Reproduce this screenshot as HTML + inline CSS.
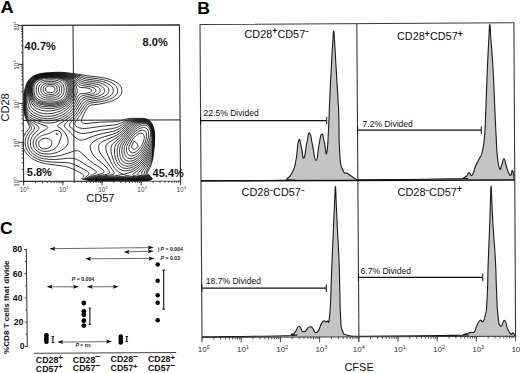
<!DOCTYPE html>
<html><head><meta charset="utf-8"><title>Figure</title>
<style>
html,body{margin:0;padding:0;background:#fff;width:520px;height:373px;overflow:hidden}
svg{display:block}
text{font-family:"Liberation Sans",sans-serif}
</style></head><body>
<svg width="520" height="373" viewBox="0 0 520 373">
<rect width="520" height="373" fill="#fff"/>
<text transform="translate(0.4,12.9) scale(1.12,1)" font-size="16.3" font-weight="bold" fill="#000" font-family="Liberation Sans">A</text>
<line x1="21.85" y1="181.4" x2="23.65" y2="181.4" stroke="#2a2a2a" stroke-width="0.9" />
<line x1="21.77" y1="169.66" x2="23.57" y2="169.66" stroke="#2a2a2a" stroke-width="0.9" />
<line x1="21.72" y1="162.79" x2="23.52" y2="162.79" stroke="#2a2a2a" stroke-width="0.9" />
<line x1="21.69" y1="157.92" x2="23.49" y2="157.92" stroke="#2a2a2a" stroke-width="0.9" />
<line x1="21.67" y1="154.14" x2="23.47" y2="154.14" stroke="#2a2a2a" stroke-width="0.9" />
<line x1="21.65" y1="151.05" x2="23.45" y2="151.05" stroke="#2a2a2a" stroke-width="0.9" />
<line x1="21.63" y1="148.44" x2="23.43" y2="148.44" stroke="#2a2a2a" stroke-width="0.9" />
<line x1="21.61" y1="146.18" x2="23.41" y2="146.18" stroke="#2a2a2a" stroke-width="0.9" />
<line x1="21.6" y1="144.18" x2="23.4" y2="144.18" stroke="#2a2a2a" stroke-width="0.9" />
<line x1="21.59" y1="142.4" x2="23.39" y2="142.4" stroke="#2a2a2a" stroke-width="0.9" />
<line x1="21.51" y1="130.66" x2="23.31" y2="130.66" stroke="#2a2a2a" stroke-width="0.9" />
<line x1="21.46" y1="123.79" x2="23.26" y2="123.79" stroke="#2a2a2a" stroke-width="0.9" />
<line x1="21.43" y1="118.92" x2="23.23" y2="118.92" stroke="#2a2a2a" stroke-width="0.9" />
<line x1="21.4" y1="115.14" x2="23.2" y2="115.14" stroke="#2a2a2a" stroke-width="0.9" />
<line x1="21.38" y1="112.05" x2="23.18" y2="112.05" stroke="#2a2a2a" stroke-width="0.9" />
<line x1="21.37" y1="109.44" x2="23.17" y2="109.44" stroke="#2a2a2a" stroke-width="0.9" />
<line x1="21.35" y1="107.18" x2="23.15" y2="107.18" stroke="#2a2a2a" stroke-width="0.9" />
<line x1="21.34" y1="105.18" x2="23.14" y2="105.18" stroke="#2a2a2a" stroke-width="0.9" />
<line x1="21.32" y1="103.4" x2="23.12" y2="103.4" stroke="#2a2a2a" stroke-width="0.9" />
<line x1="21.25" y1="91.66" x2="23.05" y2="91.66" stroke="#2a2a2a" stroke-width="0.9" />
<line x1="21.2" y1="84.79" x2="23" y2="84.79" stroke="#2a2a2a" stroke-width="0.9" />
<line x1="21.17" y1="79.92" x2="22.97" y2="79.92" stroke="#2a2a2a" stroke-width="0.9" />
<line x1="21.14" y1="76.14" x2="22.94" y2="76.14" stroke="#2a2a2a" stroke-width="0.9" />
<line x1="21.12" y1="73.05" x2="22.92" y2="73.05" stroke="#2a2a2a" stroke-width="0.9" />
<line x1="21.1" y1="70.44" x2="22.9" y2="70.44" stroke="#2a2a2a" stroke-width="0.9" />
<line x1="21.09" y1="68.18" x2="22.89" y2="68.18" stroke="#2a2a2a" stroke-width="0.9" />
<line x1="21.07" y1="66.18" x2="22.87" y2="66.18" stroke="#2a2a2a" stroke-width="0.9" />
<line x1="21.06" y1="64.4" x2="22.86" y2="64.4" stroke="#2a2a2a" stroke-width="0.9" />
<line x1="20.98" y1="52.66" x2="22.78" y2="52.66" stroke="#2a2a2a" stroke-width="0.9" />
<line x1="20.94" y1="45.79" x2="22.74" y2="45.79" stroke="#2a2a2a" stroke-width="0.9" />
<line x1="20.9" y1="40.92" x2="22.7" y2="40.92" stroke="#2a2a2a" stroke-width="0.9" />
<line x1="20.88" y1="37.14" x2="22.68" y2="37.14" stroke="#2a2a2a" stroke-width="0.9" />
<line x1="20.86" y1="34.05" x2="22.66" y2="34.05" stroke="#2a2a2a" stroke-width="0.9" />
<line x1="20.84" y1="31.44" x2="22.64" y2="31.44" stroke="#2a2a2a" stroke-width="0.9" />
<line x1="20.83" y1="29.18" x2="22.63" y2="29.18" stroke="#2a2a2a" stroke-width="0.9" />
<line x1="20.81" y1="27.18" x2="22.61" y2="27.18" stroke="#2a2a2a" stroke-width="0.9" />
<line x1="19.15" y1="181.4" x2="23.65" y2="181.4" stroke="#2a2a2a" stroke-width="0.9" />
<line x1="18.89" y1="142.4" x2="23.39" y2="142.4" stroke="#2a2a2a" stroke-width="0.9" />
<line x1="18.62" y1="103.4" x2="23.12" y2="103.4" stroke="#2a2a2a" stroke-width="0.9" />
<line x1="18.36" y1="64.4" x2="22.86" y2="64.4" stroke="#2a2a2a" stroke-width="0.9" />
<line x1="18.1" y1="25.4" x2="22.6" y2="25.4" stroke="#2a2a2a" stroke-width="0.9" />
<line x1="23.65" y1="181.4" x2="23.65" y2="183.2" stroke="#2a2a2a" stroke-width="0.9" />
<line x1="35.45" y1="181.37" x2="35.45" y2="183.17" stroke="#2a2a2a" stroke-width="0.9" />
<line x1="42.36" y1="181.35" x2="42.36" y2="183.15" stroke="#2a2a2a" stroke-width="0.9" />
<line x1="47.26" y1="181.34" x2="47.26" y2="183.14" stroke="#2a2a2a" stroke-width="0.9" />
<line x1="51.06" y1="181.33" x2="51.06" y2="183.13" stroke="#2a2a2a" stroke-width="0.9" />
<line x1="54.16" y1="181.32" x2="54.16" y2="183.12" stroke="#2a2a2a" stroke-width="0.9" />
<line x1="56.79" y1="181.32" x2="56.79" y2="183.12" stroke="#2a2a2a" stroke-width="0.9" />
<line x1="59.06" y1="181.31" x2="59.06" y2="183.11" stroke="#2a2a2a" stroke-width="0.9" />
<line x1="61.07" y1="181.3" x2="61.07" y2="183.1" stroke="#2a2a2a" stroke-width="0.9" />
<line x1="62.86" y1="181.3" x2="62.86" y2="183.1" stroke="#2a2a2a" stroke-width="0.9" />
<line x1="74.67" y1="181.27" x2="74.67" y2="183.07" stroke="#2a2a2a" stroke-width="0.9" />
<line x1="81.57" y1="181.25" x2="81.57" y2="183.05" stroke="#2a2a2a" stroke-width="0.9" />
<line x1="86.47" y1="181.24" x2="86.47" y2="183.04" stroke="#2a2a2a" stroke-width="0.9" />
<line x1="90.27" y1="181.23" x2="90.27" y2="183.03" stroke="#2a2a2a" stroke-width="0.9" />
<line x1="93.38" y1="181.22" x2="93.38" y2="183.02" stroke="#2a2a2a" stroke-width="0.9" />
<line x1="96" y1="181.22" x2="96" y2="183.02" stroke="#2a2a2a" stroke-width="0.9" />
<line x1="98.27" y1="181.21" x2="98.27" y2="183.01" stroke="#2a2a2a" stroke-width="0.9" />
<line x1="100.28" y1="181.2" x2="100.28" y2="183" stroke="#2a2a2a" stroke-width="0.9" />
<line x1="102.07" y1="181.2" x2="102.07" y2="183" stroke="#2a2a2a" stroke-width="0.9" />
<line x1="113.88" y1="181.17" x2="113.88" y2="182.97" stroke="#2a2a2a" stroke-width="0.9" />
<line x1="120.78" y1="181.15" x2="120.78" y2="182.95" stroke="#2a2a2a" stroke-width="0.9" />
<line x1="125.68" y1="181.14" x2="125.68" y2="182.94" stroke="#2a2a2a" stroke-width="0.9" />
<line x1="129.48" y1="181.13" x2="129.48" y2="182.93" stroke="#2a2a2a" stroke-width="0.9" />
<line x1="132.59" y1="181.12" x2="132.59" y2="182.92" stroke="#2a2a2a" stroke-width="0.9" />
<line x1="135.21" y1="181.12" x2="135.21" y2="182.92" stroke="#2a2a2a" stroke-width="0.9" />
<line x1="137.49" y1="181.11" x2="137.49" y2="182.91" stroke="#2a2a2a" stroke-width="0.9" />
<line x1="139.49" y1="181.1" x2="139.49" y2="182.9" stroke="#2a2a2a" stroke-width="0.9" />
<line x1="141.29" y1="181.1" x2="141.29" y2="182.9" stroke="#2a2a2a" stroke-width="0.9" />
<line x1="153.09" y1="181.07" x2="153.09" y2="182.87" stroke="#2a2a2a" stroke-width="0.9" />
<line x1="160" y1="181.05" x2="160" y2="182.85" stroke="#2a2a2a" stroke-width="0.9" />
<line x1="164.9" y1="181.04" x2="164.9" y2="182.84" stroke="#2a2a2a" stroke-width="0.9" />
<line x1="168.7" y1="181.03" x2="168.7" y2="182.83" stroke="#2a2a2a" stroke-width="0.9" />
<line x1="171.8" y1="181.02" x2="171.8" y2="182.82" stroke="#2a2a2a" stroke-width="0.9" />
<line x1="174.43" y1="181.02" x2="174.43" y2="182.82" stroke="#2a2a2a" stroke-width="0.9" />
<line x1="176.7" y1="181.01" x2="176.7" y2="182.81" stroke="#2a2a2a" stroke-width="0.9" />
<line x1="178.71" y1="181" x2="178.71" y2="182.8" stroke="#2a2a2a" stroke-width="0.9" />
<line x1="23.65" y1="181.4" x2="23.65" y2="185.6" stroke="#2a2a2a" stroke-width="0.9" />
<line x1="62.86" y1="181.3" x2="62.86" y2="185.5" stroke="#2a2a2a" stroke-width="0.9" />
<line x1="102.07" y1="181.2" x2="102.07" y2="185.4" stroke="#2a2a2a" stroke-width="0.9" />
<line x1="141.29" y1="181.1" x2="141.29" y2="185.3" stroke="#2a2a2a" stroke-width="0.9" />
<line x1="180.5" y1="181" x2="180.5" y2="185.2" stroke="#2a2a2a" stroke-width="0.9" />
<path d="M23.6,95.4L24.4,91.3L26.3,84.5L27.6,81.7L29.2,79.5L30.5,78.2L31.9,77.1L33.4,76.2L35.1,75.3L36.9,74.6L38.9,74.0L41.1,73.5L43.4,73.2L55.4,72.3L61.6,72.3L67.8,72.8L82.6,74.8L87.1,75.8L99.3,77.1L102.9,77.7L106.3,78.4L109.9,79.5L113.1,80.6L115.8,82.0L118.0,83.5L119.7,85.0L120.8,86.5L121.5,88.0L121.9,89.7L121.9,91.7L121.6,93.2L120.9,94.7L119.6,96.3L117.6,98.0L115.3,99.4L112.6,100.7L109.3,101.8L105.8,102.8L102.1,103.6L98.6,104.2L91.6,105.0L90.3,105.4L89.3,105.9L88.3,106.7L87.5,107.7L85.5,111.0L82.0,118.0L81.5,119.7L81.4,121.0L81.6,121.7L81.8,122.2L82.8,123.0L83.6,123.3L84.6,123.5L86.8,123.5L96.1,122.5L100.8,122.1L105.8,121.9L113.8,121.7L116.8,121.5L120.3,120.9L125.8,119.2L127.8,118.7L130.1,118.4L132.8,118.3L142.6,118.4L145.3,118.7L146.8,119.1L148.3,119.8L149.6,120.7L150.6,121.7L151.7,123.2L152.7,125.2L153.5,127.5L154.0,129.9L154.4,132.7L154.6,135.9L154.6,139.4L154.4,143.4L153.5,153.4L153.1,156.6L152.3,160.5L151.6,163.2L150.8,165.3L149.8,167.6L147.7,171.7L147.4,172.4L147.3,173.2L147.4,173.7L147.8,174.2L150.6,176.5L151.6,177.7L152.4,178.9L151.3,179.5L150.1,180.0L147.1,180.5L144.1,180.7L132.8,180.9M23.6,136.8L24.4,134.9L25.4,133.2L29.0,128.7L29.3,128.0L29.4,127.2L29.3,126.2L29.0,125.2L26.6,120.3L25.1,116.3L24.3,113.0L23.6,108.8M91.7,180.9L86.6,180.1L81.8,178.9L83.0,177.4L83.6,176.2L83.6,175.7L83.5,175.2L82.8,174.3L81.2,173.2L77.6,171.3L72.8,169.0L69.6,167.7L66.6,166.8L63.1,166.0L50.1,164.4L44.4,163.5L39.6,162.2L35.6,160.6L33.4,159.4L31.4,158.2L29.6,156.7L28.1,155.3L26.7,153.7L25.4,151.9L24.5,150.2L23.6,148.2M23.6,99.0L24.0,94.7L24.9,91.0L26.9,84.2L27.7,82.5L28.7,80.7L29.7,79.5L31.1,78.2L32.4,77.2L34.1,76.2L35.9,75.3L37.9,74.6L39.9,74.1L42.1,73.6L45.9,73.2L57.1,72.6L62.4,72.8L67.6,73.4L80.8,75.7L83.6,76.7L86.3,77.4L97.6,78.7L103.3,79.7L106.6,80.6L109.5,81.7L112.1,82.9L114.0,84.2L115.4,85.5L116.5,86.7L117.1,88.0L117.5,89.5L117.6,91.2L117.4,92.7L116.6,94.2L115.6,95.5L114.2,96.7L112.3,98.0L109.8,99.1L107.1,100.1L104.1,101.0L100.6,101.7L90.8,103.0L89.3,103.5L88.1,104.2L86.8,105.3L85.5,107.0L80.6,114.6L75.9,121.0L75.0,122.7L74.9,123.5L74.9,124.2L75.3,125.2L76.0,126.0L77.1,126.8L78.3,127.5L79.6,127.9L81.1,128.3L82.8,128.5L84.6,128.5L88.3,128.2L100.8,126.3L112.6,125.2L115.8,124.8L117.8,124.3L119.8,123.6L125.2,121.0L127.3,120.1L129.3,119.5L131.6,119.1L134.3,119.0L141.3,118.9L144.6,119.0L146.1,119.3L147.6,119.9L148.8,120.6L150.1,121.7L151.3,123.3L152.5,125.5L153.3,128.0L153.9,130.7L154.3,133.7L154.4,137.2L154.3,140.9L154.1,145.4L153.1,154.4L152.6,157.6L152.1,159.7L150.8,163.1L147.0,170.7L146.3,172.2L146.1,173.2L146.2,173.7L146.5,174.2L150.1,176.5L151.1,177.5L152.1,178.9L151.1,179.5L149.8,179.9L146.8,180.4L143.6,180.5L133.8,180.7L129.6,180.9M97.2,180.9L89.3,180.1L83.5,178.9L87.0,176.2L88.3,174.9L88.8,174.2L89.0,173.7L89.0,173.2L88.7,172.7L87.7,171.7L85.7,170.4L77.6,166.0L73.8,164.3L70.6,163.3L67.3,162.7L64.3,162.5L56.1,162.3L51.4,162.0L46.6,161.5L42.6,160.8L38.9,159.7L35.6,158.2L32.6,156.4L30.1,154.2L28.9,152.8L27.9,151.4L27.0,149.9L26.2,148.2L25.7,146.7L25.3,144.9L25.1,143.4L25.1,141.7L25.5,138.9L26.4,136.4L27.9,133.8L30.4,130.6L31.0,129.7L31.4,128.7L31.4,127.5L31.2,126.7L30.8,125.7L28.4,122.2L27.4,120.6L26.4,118.5L25.6,116.5L24.9,114.2L24.3,111.5L23.9,108.2L23.6,104.9M104.7,180.9L97.6,180.6L92.6,180.1L88.3,179.6L85.0,178.9L88.1,177.1L93.9,174.2L95.2,173.4L95.8,172.9L96.1,172.4L96.2,171.7L95.9,171.2L95.4,170.7L93.8,169.5L86.8,165.4L79.6,160.8L76.6,159.3L73.8,158.5L70.8,158.2L67.8,158.3L59.4,159.2L54.6,159.5L48.9,159.3L43.9,158.7L41.6,158.2L39.6,157.6L37.6,156.8L35.9,155.8L34.1,154.7L32.6,153.5L31.4,152.2L30.2,150.7L28.8,148.2L28.0,145.7L27.7,142.9L27.9,140.2L28.4,138.2L29.2,136.4L30.4,134.4L33.6,130.4L34.3,128.9L34.4,127.7L34.1,126.7L33.4,125.7L29.9,122.4L28.4,120.8L27.1,118.8L26.1,116.6L25.1,113.4L24.4,109.4L23.9,104.7L23.9,100.5L24.1,96.7L24.7,93.2L27.5,84.0L28.3,82.2L29.4,80.5L30.9,78.9L32.6,77.5L34.9,76.2L37.4,75.1L40.1,74.3L43.4,73.8L46.4,73.5L55.9,73.0L59.9,73.1L63.9,73.4L69.1,74.2L79.1,76.4L82.3,78.0L85.6,78.9L88.1,79.3L96.8,80.4L99.8,81.0L102.6,81.6L105.8,82.7L108.3,83.9L110.3,85.2L111.9,86.7L112.6,87.7L113.0,88.7L113.3,90.0L113.3,91.2L113.1,92.2L112.7,93.2L112.0,94.2L111.1,95.2L109.8,96.2L108.1,97.2L106.3,98.0L104.1,98.7L101.6,99.4L98.8,100.0L90.1,101.3L88.6,101.8L87.1,102.6L85.6,103.7L84.1,105.5L79.7,112.2L77.4,115.2L75.6,117.2L71.9,121.0L70.6,122.5L69.8,123.7L69.5,124.7L69.7,126.0L70.3,127.0L71.7,128.4L73.8,130.2L75.8,131.4L78.1,132.5L79.8,133.0L81.6,133.4L83.6,133.5L85.6,133.3L88.6,132.8L100.3,130.3L111.6,128.6L114.3,128.1L117.1,127.3L119.6,126.2L121.6,125.0L125.8,122.2L127.6,121.2L129.8,120.4L132.3,119.8L135.3,119.6L140.6,119.3L142.8,119.3L144.6,119.5L146.1,119.8L147.6,120.3L148.8,121.1L150.1,122.3L151.5,124.2L152.5,126.5L153.3,129.2L153.9,132.4L154.2,136.2L154.2,140.2L153.9,144.9L153.3,150.8L152.6,155.7L152.1,157.7L151.6,159.1L150.1,162.0L145.3,170.2L144.5,171.9L144.3,173.2L144.3,173.7L144.7,174.2L145.5,174.7L148.1,175.8L149.3,176.5L150.6,177.5L151.8,178.9L149.6,179.8L146.6,180.2L143.3,180.4L132.6,180.5L126.6,180.9M114.9,180.9L96.1,180.1L90.6,179.6L86.4,178.9L89.1,177.6L92.3,176.3L102.2,173.4L103.2,172.9L103.8,172.4L104.0,171.9L103.9,171.4L103.8,170.9L103.2,170.2L101.8,168.9L99.6,167.3L93.5,163.4L90.7,161.4L87.2,158.4L81.3,152.7L79.8,151.6L78.6,151.0L77.6,150.7L76.6,150.7L74.3,151.0L72.3,151.6L64.1,154.4L61.4,155.2L58.4,155.9L53.9,156.5L49.1,156.8L46.4,156.6L43.9,156.3L41.6,155.8L39.6,155.2L37.6,154.2L35.9,153.1L34.4,151.9L33.0,150.4L32.1,149.2L31.4,147.9L30.9,146.7L30.6,145.4L30.4,144.2L30.4,142.7L30.5,141.2L30.7,139.9L31.5,137.9L32.4,136.2L33.9,134.4L38.2,129.7L38.9,128.4L38.9,127.5L38.4,126.5L37.3,125.5L35.9,124.5L31.4,121.8L29.6,120.5L28.4,119.3L27.4,117.9L26.1,115.2L25.6,113.7L25.1,111.6L24.5,107.5L24.2,103.0L24.3,98.5L24.9,94.6L25.5,92.0L26.7,88.7L27.6,85.0L28.2,83.2L29.2,81.5L30.4,79.9L31.9,78.5L34.1,77.0L36.6,75.7L39.4,74.8L42.6,74.2L46.1,73.8L55.1,73.4L59.1,73.4L62.9,73.7L68.6,74.7L77.6,77.0L81.3,79.3L82.8,79.9L84.6,80.5L87.1,80.9L95.6,82.0L98.1,82.5L100.6,83.2L103.1,84.1L105.1,85.1L106.7,86.2L107.9,87.5L108.3,88.2L108.7,89.2L108.9,90.2L108.9,91.2L108.7,92.2L108.3,93.0L107.8,93.7L107.1,94.5L106.1,95.2L104.6,96.1L101.3,97.4L97.1,98.4L89.1,99.7L86.9,100.5L85.1,101.5L83.7,102.7L82.4,104.2L78.2,111.0L75.4,114.5L72.3,117.5L66.4,122.5L65.4,123.5L64.8,124.2L64.4,125.2L64.5,126.2L65.0,127.2L66.0,128.4L70.6,133.0L74.8,137.1L77.1,138.8L78.8,139.7L79.8,140.0L81.1,140.1L82.3,140.0L83.6,139.7L86.3,138.9L93.8,136.0L98.1,134.7L103.1,133.4L112.1,131.6L115.3,130.6L117.8,129.5L120.3,128.1L122.6,126.4L126.6,123.2L128.0,122.2L129.8,121.3L131.8,120.7L134.1,120.3L137.3,120.0L141.8,119.8L144.3,119.9L146.1,120.2L147.6,120.8L148.8,121.6L150.1,122.8L151.4,124.7L152.5,127.2L153.3,130.2L153.8,133.4L154.0,137.2L153.9,141.7L153.4,147.7L152.8,152.3L152.1,155.5L151.1,157.8L147.6,163.6L142.7,170.9L141.7,172.7L141.4,173.7L141.5,174.2L142.4,174.7L146.6,175.8L148.6,176.6L150.1,177.6L151.4,178.9L149.1,179.7L146.1,180.1L131.3,180.4L121.1,180.9M49.9,154.0L46.9,154.1L43.9,153.8L41.4,153.3L39.1,152.4L37.1,151.1L35.4,149.4L34.2,147.7L33.4,145.7L33.1,143.4L33.3,141.2L34.1,138.9L35.4,136.9L37.0,135.2L39.1,133.5L41.1,132.2L45.2,129.9L46.7,128.9L47.5,128.2L47.8,127.5L47.5,127.0L47.3,126.7L46.4,126.2L36.6,122.5L33.4,121.0L30.9,119.7L29.4,118.6L28.1,117.4L27.1,115.9L26.4,114.3L25.9,112.8L25.4,110.6L24.8,106.7L24.6,102.0L24.9,97.5L25.5,94.0L27.2,88.7L28.1,84.7L29.0,82.7L30.2,80.7L32.2,78.7L34.6,77.1L37.4,75.8L40.6,74.8L43.6,74.3L46.9,74.0L55.1,73.7L60.4,73.9L63.9,74.3L67.2,75.0L70.6,75.8L76.1,77.5L76.6,77.7L80.1,80.5L81.3,81.2L82.6,81.7L85.6,82.5L92.8,83.4L96.6,84.2L98.3,84.7L100.1,85.4L101.6,86.2L102.6,86.9L103.4,87.7L104.0,88.5L104.3,89.2L104.5,90.2L104.5,91.2L104.3,92.0L103.8,93.0L103.1,93.7L101.2,95.0L98.6,96.0L95.1,96.9L89.6,97.8L87.6,98.2L85.3,99.0L83.6,99.9L82.4,101.0L81.3,102.2L76.3,110.2L74.6,112.5L72.6,114.7L70.6,116.5L68.3,118.2L65.6,120.1L59.7,123.7L58.6,124.5L57.9,125.2L57.5,126.0L57.9,126.7L61.4,129.1L63.1,130.6L64.7,132.4L66.1,134.7L67.3,137.2L67.9,139.4L68.1,141.4L67.9,143.4L67.1,145.2L65.8,146.9L63.8,148.7L61.6,150.2L58.9,151.6L56.0,152.7L53.1,153.4L49.9,154.0M123.3,180.5L116.1,180.5L100.3,180.1L93.3,179.6L87.8,178.9L91.1,177.6L94.6,176.5L97.8,175.8L104.8,174.7L107.1,174.2L108.8,173.4L109.3,172.9L109.5,172.4L109.4,171.7L108.8,170.4L107.6,168.8L106.1,167.0L103.3,164.3L96.3,158.4L94.7,156.7L93.1,154.7L91.6,152.2L90.6,149.7L90.3,148.2L90.2,146.9L90.2,145.9L90.5,145.2L91.3,143.7L92.8,142.2L94.9,140.7L97.6,139.2L99.9,138.2L102.8,137.2L113.3,134.1L115.6,133.2L117.6,132.2L119.6,130.9L121.6,129.3L128.2,123.5L129.6,122.5L130.8,121.9L132.3,121.3L134.3,120.9L136.8,120.5L140.1,120.3L142.3,120.2L144.1,120.3L145.6,120.5L146.8,120.9L148.1,121.5L149.1,122.3L150.1,123.3L150.8,124.4L152.1,127.0L152.7,128.7L153.1,130.4L153.6,134.4L153.7,139.2L153.4,145.2L152.8,150.4L152.3,152.6L151.6,154.6L150.3,156.8L148.1,160.4L145.8,163.8L143.6,166.8L140.1,171.0L137.6,173.7L137.3,174.2L137.3,174.4L137.4,174.7L137.8,174.9L138.6,175.2L144.8,176.0L147.3,176.6L149.3,177.5L150.1,178.1L151.0,178.9L148.6,179.6L145.6,179.9L131.8,180.1L123.3,180.5M49.9,123.0L46.4,122.9L42.6,122.3L38.9,121.3L35.1,120.0L31.9,118.4L29.3,116.7L27.9,115.2L27.1,114.1L26.6,113.0L26.1,111.5L25.6,109.2L25.1,104.9L25.1,100.2L25.6,96.1L26.1,94.1L27.6,89.2L28.3,85.7L29.1,83.5L29.8,82.0L30.9,80.5L32.2,79.2L33.6,78.1L35.9,76.8L38.4,75.8L41.1,75.0L44.1,74.6L47.1,74.3L55.4,74.0L59.1,74.1L62.9,74.6L65.6,75.1L68.3,75.8L75.3,78.1L79.1,81.8L80.3,82.7L81.6,83.3L84.3,84.0L91.3,85.0L94.6,85.8L96.3,86.4L97.6,87.0L98.7,87.7L99.6,88.7L100.2,90.0L100.2,90.7L100.1,91.5L99.7,92.2L99.4,92.7L97.8,93.8L96.1,94.6L94.1,95.2L87.3,96.5L85.1,97.0L83.1,97.8L81.6,98.7L80.6,99.7L79.8,100.7L76.1,107.2L73.6,110.8L72.1,112.5L70.6,114.0L68.8,115.4L67.1,116.7L65.1,118.0L62.9,119.3L60.6,120.3L58.1,121.3L55.9,122.1L53.9,122.5L51.9,122.8L49.9,123.0M120.3,180.2L111.1,180.1L100.3,179.9L94.6,179.5L89.3,178.9L92.8,177.7L96.8,176.8L100.1,176.3L107.9,175.4L111.1,174.9L112.3,174.6L113.5,174.2L113.8,173.9L114.2,173.4L114.3,172.9L114.1,172.4L113.4,171.2L106.6,161.5L101.6,155.2L100.2,152.9L99.2,150.7L98.7,148.7L98.5,146.7L98.6,145.9L98.9,145.2L99.5,144.2L100.4,143.2L101.7,142.2L103.3,141.2L106.3,139.7L114.1,136.5L116.1,135.5L118.1,134.3L119.8,133.0L121.8,131.3L129.2,124.2L130.4,123.2L131.7,122.5L133.3,121.8L135.3,121.3L137.8,121.0L140.8,120.7L142.8,120.6L144.3,120.7L145.8,121.0L147.1,121.5L148.1,122.0L149.1,122.8L150.1,123.9L150.8,125.0L151.5,126.2L152.1,127.7L152.9,130.9L153.4,135.2L153.5,139.9L153.1,145.7L152.8,147.7L152.3,150.3L151.8,151.8L151.3,152.8L149.3,156.2L146.1,161.1L143.1,165.1L140.8,167.7L138.6,169.9L136.1,171.9L132.9,173.9L132.4,174.4L132.4,174.7L132.5,174.9L133.1,175.3L135.1,175.8L137.6,176.1L143.8,176.5L146.6,176.9L147.8,177.3L148.8,177.7L150.5,178.9L148.3,179.5L145.1,179.8L120.3,180.2M48.1,151.2L45.1,151.4L43.6,151.3L42.4,151.0L40.1,150.2L39.0,149.4L38.1,148.7L37.4,147.9L36.7,146.9L36.3,145.9L36.0,144.7L35.9,143.4L36.0,142.2L36.4,141.0L36.8,139.9L37.9,138.5L39.1,137.3L40.6,136.2L42.4,135.4L48.9,133.4L50.4,132.8L53.1,131.3L54.6,130.7L55.9,130.5L56.9,130.5L57.9,130.7L58.9,131.1L60.1,131.9L60.8,132.9L61.3,134.2L61.4,135.4L61.2,136.7L60.9,137.9L59.0,142.9L58.3,144.7L57.5,145.9L56.6,146.9L55.6,147.9L54.2,148.9L52.9,149.7L51.4,150.4L49.9,150.9L48.1,151.2M49.6,120.7L46.1,120.7L42.6,120.3L39.0,119.5L35.5,118.2L32.4,116.6L29.6,114.8L28.6,113.9L27.9,113.0L27.4,112.2L26.9,111.1L26.1,108.2L25.6,104.0L25.6,100.5L26.1,97.0L28.2,89.2L28.8,85.7L29.4,83.7L30.2,82.2L31.2,80.7L32.4,79.5L33.9,78.3L35.9,77.2L38.4,76.1L41.1,75.3L44.1,74.8L47.1,74.6L55.4,74.3L59.1,74.5L62.6,75.0L65.1,75.5L67.7,76.2L74.1,78.5L75.1,79.5L78.6,83.6L79.6,84.4L80.6,85.0L82.6,85.6L88.9,86.5L91.6,87.0L93.9,88.0L94.7,88.5L95.4,89.2L95.9,90.2L95.9,91.0L95.7,91.5L95.1,92.3L93.8,93.1L92.3,93.7L90.8,94.1L85.1,95.1L82.8,95.6L81.3,96.2L80.1,97.1L79.3,97.9L78.6,99.0L75.5,104.7L72.8,108.7L71.3,110.5L69.6,112.2L67.9,113.7L66.1,115.0L62.4,117.3L60.3,118.2L58.1,119.1L55.9,119.7L53.9,120.2L49.6,120.7M124.6,174.0L123.6,174.1L122.8,174.1L121.1,173.3L118.8,172.0L117.3,170.9L115.8,169.5L114.6,168.1L113.4,166.4L112.1,164.2L110.7,161.4L107.9,155.4L106.7,152.4L106.1,150.4L105.8,148.7L105.7,146.9L106.0,145.7L107.0,144.2L108.7,142.7L110.6,141.4L116.1,138.1L119.6,135.5L122.6,132.7L129.6,125.5L131.1,124.1L132.4,123.2L133.9,122.5L135.5,122.0L137.6,121.5L140.1,121.2L142.3,121.1L144.1,121.1L145.6,121.4L146.8,121.8L147.8,122.3L148.8,123.1L149.8,124.1L150.6,125.2L151.3,126.5L151.8,127.9L152.7,131.2L153.2,135.7L153.2,140.7L153.0,143.7L152.6,146.4L152.3,147.9L151.8,149.5L151.0,151.2L149.3,154.0L145.6,159.7L142.1,164.1L138.8,167.4L136.1,169.5L133.3,171.1L129.3,172.6L124.6,174.0M57.4,134.3L56.9,134.4L56.4,134.3L55.9,133.9L55.9,133.7L56.1,133.5L57.4,134.0L57.4,134.2L57.4,134.3M46.1,148.7L44.9,148.8L43.6,148.8L42.6,148.6L41.6,148.2L40.8,147.7L39.9,146.9L39.3,146.2L39.0,145.4L38.7,144.4L38.7,143.4L38.9,142.4L39.3,141.4L39.9,140.7L40.6,139.9L41.6,139.2L42.6,138.8L43.9,138.4L45.4,138.3L46.9,138.4L48.4,138.7L49.4,139.2L50.4,139.9L51.1,140.7L51.5,141.7L51.8,142.9L51.7,144.2L51.4,145.2L50.7,146.2L49.9,147.1L48.9,147.8L47.6,148.3L46.1,148.7M134.6,179.7L120.1,179.9L107.1,179.8L97.8,179.5L91.0,178.9L94.8,177.9L99.1,177.1L102.8,176.7L114.8,175.8L123.1,174.5L123.6,174.6L127.8,175.7L131.6,176.3L135.6,176.7L143.1,177.0L145.6,177.2L148.1,177.9L149.1,178.4L149.9,178.9L147.8,179.4L145.3,179.6L134.6,179.7M51.1,118.5L47.4,118.7L43.9,118.4L40.4,117.8L37.0,116.7L33.8,115.2L30.9,113.2L28.7,111.2L27.6,109.3L27.1,107.7L26.6,105.5L26.4,103.2L26.4,101.2L26.8,98.2L28.8,88.7L29.1,86.2L29.8,84.0L30.8,82.0L32.2,80.2L33.9,78.7L36.1,77.4L38.6,76.4L41.4,75.6L44.4,75.1L47.4,74.9L55.1,74.7L58.9,74.9L62.4,75.4L65.0,76.0L67.6,76.7L70.8,78.0L73.3,79.1L75.0,81.2L77.8,85.6L78.6,86.5L79.6,87.2L80.8,87.5L84.3,87.6L88.1,88.2L90.1,88.8L90.8,89.2L91.3,89.7L91.6,90.5L91.4,91.2L90.8,91.8L89.8,92.4L88.6,92.8L86.8,93.1L80.8,93.8L79.8,94.2L79.1,94.7L77.8,96.3L74.8,102.5L73.7,104.2L72.3,106.2L70.8,108.0L69.1,109.9L67.3,111.5L65.5,113.0L62.1,115.1L58.6,116.6L54.9,117.8L51.1,118.5M126.8,170.7L125.1,170.8L123.3,170.6L121.8,170.2L120.3,169.5L119.1,168.8L117.8,167.7L116.7,166.4L115.6,164.9L114.5,162.9L113.5,160.4L112.5,157.4L111.6,154.2L111.2,151.7L111.0,149.4L111.1,147.2L111.4,145.9L112.1,144.7L113.2,143.4L120.3,137.1L129.6,127.2L132.0,125.0L133.6,123.7L134.9,123.0L136.3,122.5L138.3,122.0L140.3,121.7L142.3,121.5L143.8,121.6L145.3,121.8L146.6,122.2L147.6,122.7L148.6,123.4L150.1,125.1L151.4,127.5L152.3,130.7L152.9,134.7L153.0,139.4L152.6,144.0L152.3,145.4L151.8,147.2L151.0,148.9L149.6,151.4L146.1,156.8L142.6,161.4L139.3,164.8L136.6,167.1L133.8,168.7L130.3,170.0L128.6,170.4L126.8,170.7M143.3,179.5L121.3,179.7L110.8,179.6L100.1,179.4L92.9,178.9L97.3,178.0L102.3,177.4L108.8,177.0L121.1,176.6L124.6,176.6L133.1,177.2L144.1,177.6L147.1,178.1L148.3,178.5L149.2,178.9L146.8,179.3L143.3,179.5M50.9,116.2L47.6,116.4L44.6,116.3L41.6,115.8L38.9,115.0L36.1,113.9L33.6,112.4L31.1,110.5L30.1,109.5L29.8,109.0L28.9,107.1L28.2,105.0L27.9,103.0L27.8,100.5L28.4,94.5L29.5,86.5L30.0,84.5L31.0,82.5L32.0,81.0L33.4,79.6L34.9,78.5L36.8,77.5L38.9,76.6L41.1,76.0L43.6,75.5L46.1,75.2L54.9,75.0L57.9,75.1L60.6,75.5L63.6,76.1L66.3,76.9L69.0,78.0L72.3,79.5L74.0,81.7L75.3,84.2L76.8,88.2L77.2,89.7L77.3,90.7L77.1,92.5L76.2,95.2L74.8,99.0L73.3,101.7L71.5,104.5L69.1,107.2L66.3,109.6L63.6,111.6L60.6,113.3L57.4,114.7L54.1,115.7L50.9,116.2M128.8,168.2L127.1,168.4L125.3,168.4L123.8,168.1L122.3,167.6L121.1,166.9L119.7,165.9L118.6,164.7L117.7,163.4L116.8,161.7L116.0,159.7L115.3,157.2L114.8,154.7L114.5,152.2L114.5,149.9L114.7,147.9L115.1,146.2L116.0,144.4L117.4,142.7L121.8,137.9L129.5,129.2L132.2,126.5L134.3,124.6L135.6,123.8L136.7,123.2L138.3,122.7L139.8,122.4L141.8,122.1L143.6,122.1L145.1,122.2L146.3,122.6L147.3,123.1L148.3,123.7L149.1,124.4L149.8,125.4L151.1,127.7L152.0,130.4L152.3,132.3L152.6,134.4L152.7,138.4L152.3,142.2L151.6,145.0L149.6,149.0L146.6,153.9L143.5,158.2L140.3,161.8L137.6,164.3L134.8,166.1L132.1,167.4L128.8,168.2M145.3,179.2L114.3,179.4L102.8,179.3L95.3,178.9L99.3,178.3L104.3,177.9L112.1,177.6L120.6,177.4L143.1,178.0L146.1,178.3L148.2,178.9L145.3,179.2M50.1,113.7L47.4,113.9L44.9,113.7L42.4,113.3L39.9,112.7L37.4,111.7L35.1,110.4L32.9,108.8L31.9,108.0L31.6,107.5L30.5,105.2L29.7,102.7L29.3,100.0L29.1,96.5L29.2,92.5L30.0,86.5L30.5,84.5L31.4,82.5L32.6,81.0L33.8,79.7L35.4,78.6L37.1,77.7L39.1,76.9L41.4,76.2L43.9,75.8L46.6,75.5L54.9,75.3L57.9,75.5L60.6,75.9L63.4,76.5L66.1,77.4L68.6,78.5L71.3,79.9L72.2,81.0L73.0,82.2L74.1,84.7L74.9,87.7L75.2,90.7L75.0,93.2L74.3,96.0L73.3,98.7L71.9,101.2L70.3,103.5L68.1,105.7L65.6,107.7L62.9,109.5L59.9,111.1L56.6,112.3L53.4,113.2L50.1,113.7M129.3,166.0L127.8,166.1L126.3,166.1L124.8,165.8L123.6,165.4L122.4,164.7L121.3,163.9L120.3,162.8L119.4,161.4L118.6,159.7L118.0,157.9L117.5,155.9L117.3,153.9L117.2,151.7L117.2,149.7L117.6,147.4L118.0,145.9L118.8,144.4L119.8,142.9L127.9,132.9L131.6,128.9L135.1,125.7L136.4,124.7L137.7,124.0L138.9,123.5L140.6,123.0L142.3,122.7L143.8,122.7L145.1,122.8L146.4,123.2L148.1,124.2L149.6,125.8L150.8,128.0L151.6,130.4L152.2,133.7L152.3,137.4L151.9,140.4L151.1,143.2L149.1,147.4L146.4,151.9L143.3,156.2L140.3,159.7L137.6,162.2L135.1,163.9L132.3,165.2L129.3,166.0M126.3,179.2L108.8,179.2L98.7,178.9L102.3,178.6L106.6,178.4L120.1,178.1L142.1,178.5L144.6,178.6L146.6,178.9L142.3,179.1L126.3,179.2M49.6,111.0L47.1,111.0L44.6,110.8L42.4,110.5L40.1,109.8L37.9,109.0L35.6,107.8L33.4,106.2L32.9,105.4L31.6,103.0L30.7,100.5L30.1,97.5L29.8,94.5L29.9,91.5L30.4,86.5L31.0,84.2L32.1,82.2L33.1,80.9L34.4,79.7L36.1,78.6L37.9,77.7L39.9,76.9L42.1,76.4L44.6,76.0L47.1,75.7L54.6,75.6L57.4,75.8L60.1,76.2L62.9,76.8L65.4,77.7L67.6,78.7L70.3,80.2L71.0,81.0L71.8,82.2L72.9,84.7L73.5,87.2L73.7,90.5L73.5,93.2L73.0,95.7L72.1,98.2L70.6,100.7L69.1,102.7L67.1,104.5L64.8,106.2L62.1,107.7L59.1,109.0L56.1,109.9L52.9,110.6L49.6,111.0M129.3,163.7L127.8,163.7L126.6,163.6L125.3,163.2L124.3,162.7L123.3,162.1L122.5,161.2L121.7,160.2L121.1,159.2L120.5,157.7L120.0,156.2L119.7,154.4L119.5,152.4L119.5,150.4L119.7,148.7L120.1,146.9L120.5,145.7L121.3,144.2L122.4,142.4L128.5,134.4L132.0,130.4L135.3,127.3L138.3,125.2L139.8,124.5L141.2,124.0L142.6,123.6L144.1,123.6L145.3,123.7L146.6,124.1L147.6,124.7L148.3,125.2L149.1,126.1L149.8,127.1L150.8,129.4L151.5,132.2L151.7,134.9L151.5,137.4L150.8,140.1L149.6,143.4L147.6,147.4L145.1,151.4L142.3,155.2L139.6,158.3L137.1,160.5L134.6,162.1L132.1,163.2L129.3,163.7M139.1,179.0L119.3,179.0L105.6,178.9L119.6,178.7L139.3,178.9L139.1,179.0M51.6,108.5L47.9,108.6L44.4,108.3L41.4,107.8L38.4,106.8L36.1,105.7L34.6,104.7L33.2,102.7L32.1,100.7L31.5,99.2L31.0,97.5L30.4,94.2L30.4,90.7L30.7,87.5L31.0,85.7L31.4,84.5L32.0,83.2L33.4,81.2L35.4,79.5L37.9,78.0L39.6,77.3L41.6,76.8L43.9,76.4L46.1,76.1L53.6,75.9L56.4,76.1L58.9,76.4L61.1,76.8L63.4,77.5L65.6,78.4L67.6,79.5L69.6,80.7L70.5,82.0L71.3,83.5L72.0,85.5L72.3,87.5L72.5,90.5L72.3,93.0L71.9,95.0L71.3,97.0L70.3,99.0L69.1,100.6L67.7,102.2L66.1,103.6L64.1,104.9L61.9,106.0L59.6,106.9L57.1,107.6L54.4,108.2L51.6,108.5M130.6,161.2L129.3,161.3L128.1,161.2L127.1,160.9L126.1,160.5L125.2,159.9L124.3,159.2L123.6,158.2L123.0,157.2L122.5,155.9L122.1,154.4L121.8,151.4L121.8,149.7L122.0,148.2L122.3,146.7L122.8,145.4L123.6,143.9L125.0,141.7L129.1,135.9L132.3,132.2L135.5,129.2L137.1,127.9L138.6,126.9L140.1,126.1L141.6,125.5L143.1,125.2L144.3,125.1L145.6,125.2L146.6,125.5L147.3,125.9L148.1,126.5L148.8,127.4L149.3,128.2L150.1,130.0L150.6,132.4L150.5,134.7L150.1,137.5L149.2,140.4L148.0,143.7L146.3,146.9L144.2,150.4L141.8,153.5L139.3,156.3L137.1,158.3L135.1,159.7L133.1,160.6L130.6,161.2M52.4,106.7L48.4,106.8L45.1,106.6L42.1,106.2L39.4,105.4L37.4,104.6L35.9,103.7L34.4,102.0L33.0,100.0L31.8,97.2L31.1,94.2L30.9,91.0L31.3,86.5L31.9,84.2L33.1,82.2L34.7,80.5L36.9,78.9L38.4,78.2L40.4,77.4L42.4,76.9L44.6,76.6L47.4,76.3L51.6,76.2L54.4,76.3L56.7,76.5L58.9,76.8L61.1,77.3L63.1,78.0L64.8,78.7L66.7,79.7L68.5,81.0L69.1,81.6L69.8,82.7L70.6,84.5L71.1,86.5L71.3,88.7L71.3,91.7L71.0,93.7L70.5,95.7L69.6,97.7L68.6,99.3L67.3,100.8L65.8,102.2L64.1,103.4L62.1,104.5L59.9,105.3L57.6,106.0L55.1,106.4L52.4,106.7M132.3,158.5L130.1,158.7L129.1,158.5L128.1,158.2L127.3,157.8L126.5,157.2L125.3,155.7L124.8,154.7L124.4,153.4L124.0,150.7L124.1,149.2L124.2,147.7L124.5,146.4L124.9,145.4L127.0,141.7L130.1,137.2L132.8,133.9L135.6,131.2L138.3,129.2L139.8,128.4L141.1,127.9L142.3,127.6L143.6,127.4L144.6,127.5L145.6,127.8L146.8,128.6L147.7,129.7L148.4,131.2L148.7,133.2L148.7,135.4L148.3,137.8L147.6,140.4L146.6,143.1L145.2,145.9L143.6,148.6L141.8,151.1L139.8,153.5L137.8,155.4L135.9,156.9L134.1,157.9L132.3,158.5M54.6,105.2L51.4,105.4L47.4,105.4L44.4,105.1L41.6,104.6L39.1,103.8L36.9,102.8L35.6,101.6L34.4,100.2L33.5,99.0L32.7,97.5L32.2,96.2L31.8,94.7L31.4,91.7L31.6,88.0L31.9,85.7L32.7,83.7L33.9,81.9L35.6,80.2L37.1,79.2L38.6,78.5L40.7,77.7L42.7,77.2L44.9,76.8L47.1,76.6L53.9,76.6L58.1,77.0L60.0,77.5L61.9,78.0L63.6,78.7L65.4,79.7L66.9,80.7L68.0,81.7L68.9,83.2L69.7,85.0L70.1,86.7L70.2,88.7L70.2,91.2L70.0,93.5L69.4,95.5L68.5,97.5L67.5,99.0L66.1,100.5L64.6,101.7L63.1,102.6L61.1,103.6L59.1,104.3L56.9,104.9L54.6,105.2M133.1,155.7L131.3,155.9L129.8,155.6L129.1,155.2L128.4,154.7L127.4,153.4L126.7,151.7L126.4,149.7L126.5,147.4L126.7,146.4L127.0,145.4L128.8,142.2L131.1,138.6L133.3,135.8L135.6,133.5L138.1,131.7L140.3,130.6L141.3,130.3L142.3,130.2L143.3,130.3L144.1,130.5L145.1,131.1L145.8,132.1L146.4,133.4L146.6,134.9L146.6,136.7L146.3,138.7L145.7,140.9L144.8,143.1L143.8,145.2L142.5,147.4L141.1,149.4L139.3,151.5L137.6,153.2L136.1,154.3L134.6,155.2L133.1,155.7M53.4,104.2L49.6,104.3L46.4,104.2L43.6,103.9L41.1,103.3L39.1,102.6L37.6,101.8L35.9,100.4L34.4,98.6L33.1,96.4L32.3,94.0L32.0,91.2L32.1,87.5L32.6,85.2L33.4,83.5L34.7,81.7L36.4,80.2L38.0,79.2L39.7,78.5L41.2,78.0L43.4,77.4L45.4,77.1L48.0,77.0L54.4,77.0L56.5,77.2L58.6,77.6L60.4,78.1L62.1,78.7L63.7,79.5L65.2,80.5L66.7,81.7L67.3,82.5L68.3,84.2L68.8,85.9L69.1,87.7L69.2,90.2L69.1,92.2L68.7,94.2L68.0,96.0L67.2,97.5L66.1,98.9L64.8,100.1L63.4,101.2L61.9,102.1L59.9,102.9L57.9,103.5L55.6,104.0L53.4,104.2M133.8,152.7L132.6,152.8L131.3,152.5L130.3,151.9L129.6,150.9L129.0,149.4L128.9,147.9L129.0,146.4L129.6,144.9L131.0,142.2L132.5,139.7L134.1,137.7L135.8,135.9L137.6,134.5L139.3,133.6L140.3,133.3L141.1,133.2L142.4,133.4L143.1,133.9L143.7,134.7L144.1,135.7L144.3,136.9L144.3,138.2L144.0,139.7L143.6,141.2L143.0,142.9L142.1,144.7L141.2,146.2L140.1,147.7L138.8,149.2L137.6,150.4L136.3,151.5L135.1,152.2L133.8,152.7M52.9,103.2L49.4,103.3L46.4,103.2L43.6,102.8L41.3,102.2L39.1,101.4L37.6,100.5L35.9,99.0L34.6,97.5L33.6,95.5L32.9,93.0L32.7,90.5L32.9,87.2L33.4,85.1L34.1,83.5L35.4,81.9L37.0,80.5L38.2,79.7L39.8,79.0L41.3,78.5L43.6,77.9L47.9,77.4L54.1,77.5L57.9,78.0L59.6,78.5L61.6,79.2L63.1,80.0L64.5,81.0L65.6,82.0L66.3,82.9L67.1,84.2L67.7,86.0L68.0,87.7L68.1,90.2L67.9,92.2L67.6,93.8L67.0,95.5L66.2,97.0L65.2,98.2L64.0,99.5L62.6,100.5L60.9,101.4L59.1,102.1L57.1,102.6L55.1,103.0L52.9,103.2M134.3,149.2L133.3,149.2L132.6,148.8L132.0,147.9L131.7,146.9L131.9,145.9L132.6,143.9L133.6,141.9L134.1,141.3L135.6,142.1L136.8,143.3L137.3,144.1L137.7,144.9L138.0,146.7L137.4,147.4L136.3,148.3L135.3,148.9L134.3,149.2M52.1,102.0L48.9,102.0L46.4,101.8L43.9,101.5L41.9,100.9L40.0,100.2L38.3,99.2L36.8,98.0L35.6,96.5L34.6,94.5L34.1,92.5L34.0,90.2L34.1,87.2L34.6,85.4L35.5,83.7L36.7,82.2L38.2,81.0L39.5,80.2L41.3,79.5L44.6,78.6L48.9,78.3L51.9,78.3L54.4,78.4L57.9,79.0L59.4,79.5L60.9,80.1L62.2,81.0L63.2,81.7L64.1,82.5L64.8,83.5L65.6,85.0L66.1,86.5L66.4,88.0L66.4,90.2L66.3,92.0L65.9,93.7L65.3,95.2L64.6,96.5L63.6,97.7L62.5,98.7L61.1,99.6L59.6,100.4L58.1,101.0L56.2,101.5L54.4,101.8L52.1,102.0M52.9,100.0L50.1,100.1L47.6,100.0L45.6,99.8L43.6,99.3L41.9,98.7L40.4,97.9L39.0,97.0L37.9,95.7L37.0,94.2L36.4,92.5L36.2,90.5L36.3,88.0L36.6,86.5L37.2,85.0L38.1,83.6L39.3,82.5L40.5,81.7L41.9,81.0L43.4,80.5L44.9,80.2L48.4,79.8L52.9,79.8L55.9,80.2L58.6,81.0L59.9,81.6L60.9,82.3L61.9,83.1L62.6,84.0L63.2,85.0L63.7,86.2L64.0,87.5L64.1,89.0L64.1,90.7L63.9,92.2L63.5,93.7L62.9,95.0L62.1,96.0L61.2,97.0L60.1,97.8L58.9,98.5L57.6,99.0L56.1,99.5L52.9,100.0M53.4,98.0L51.4,98.1L48.9,98.1L47.1,98.0L45.4,97.7L43.7,97.2L42.4,96.6L41.4,95.9L40.3,95.0L39.4,93.7L38.9,92.4L38.5,90.7L38.5,89.0L38.7,87.5L39.1,86.2L39.8,85.0L40.7,84.0L41.6,83.2L42.6,82.7L44.9,81.9L47.6,81.4L51.4,81.3L54.1,81.6L56.6,82.2L58.6,83.1L59.4,83.7L60.2,84.5L60.8,85.2L61.3,86.2L61.6,87.2L61.8,88.2L61.8,90.0L61.7,91.2L61.4,92.5L61.0,93.5L59.9,95.1L59.1,95.8L58.1,96.5L55.9,97.4L53.4,98.0M52.1,96.2L48.6,96.2L45.9,95.8L44.6,95.3L43.6,94.8L42.8,94.2L42.1,93.5L41.4,92.5L41.0,91.2L40.9,90.0L40.9,88.5L41.1,87.5L41.4,86.5L42.1,85.5L42.9,84.8L44.4,83.9L46.4,83.2L48.6,82.9L51.6,82.9L53.9,83.2L55.6,83.6L57.2,84.5L58.4,85.5L59.2,87.0L59.5,88.7L59.4,91.0L59.1,92.0L58.8,92.7L57.9,94.0L56.4,95.1L54.4,95.8L52.1,96.2M50.9,94.5L48.4,94.4L46.5,94.0L45.0,93.2L44.4,92.6L43.9,92.0L43.5,91.2L43.3,90.5L43.2,89.5L43.3,88.2L43.5,87.5L43.9,86.7L44.4,86.2L45.1,85.6L46.4,85.0L47.9,84.6L49.9,84.4L52.1,84.5L53.6,84.8L54.9,85.3L55.9,85.9L56.6,86.7L57.1,88.0L57.2,89.7L57.0,91.0L56.4,92.2L55.6,93.1L54.4,93.8L52.9,94.3L50.9,94.5M52.4,92.5L50.9,92.7L48.9,92.6L47.6,92.3L46.6,91.7L45.9,91.0L45.6,90.0L45.6,88.5L46.0,87.5L46.6,86.9L47.4,86.5L48.4,86.2L49.4,86.0L50.9,86.0L52.1,86.1L53.1,86.5L54.0,87.0L54.6,87.7L54.9,88.5L54.9,89.5L54.8,90.5L54.4,91.2L53.9,91.7L53.1,92.2L52.4,92.5" fill="none" stroke="#111" stroke-width="0.85" stroke-linejoin="round"/>
<path d="M22.6,25.4 L179.4,24.85 L180.5,181.0 L23.65,181.4 Z" fill="none" stroke="#2a2a2a" stroke-width="1.1"/>
<line x1="73" y1="25" x2="74.2" y2="181.2" stroke="#222" stroke-width="1.0" />
<line x1="22.8" y1="120.4" x2="180.2" y2="119.9" stroke="#222" stroke-width="1.0" />
<text x="24.45" y="191.8" font-size="6.4" font-weight="normal" text-anchor="middle" fill="#444" font-family="Liberation Sans" >10<tspan font-size="4.2" dy="-2.8">0</tspan></text>
<text x="63.66" y="191.8" font-size="6.4" font-weight="normal" text-anchor="middle" fill="#444" font-family="Liberation Sans" >10<tspan font-size="4.2" dy="-2.8">1</tspan></text>
<text x="102.87" y="191.8" font-size="6.4" font-weight="normal" text-anchor="middle" fill="#444" font-family="Liberation Sans" >10<tspan font-size="4.2" dy="-2.8">2</tspan></text>
<text x="142.09" y="191.8" font-size="6.4" font-weight="normal" text-anchor="middle" fill="#444" font-family="Liberation Sans" >10<tspan font-size="4.2" dy="-2.8">3</tspan></text>
<text x="181.3" y="191.8" font-size="6.4" font-weight="normal" text-anchor="middle" fill="#444" font-family="Liberation Sans" >10<tspan font-size="4.2" dy="-2.8">4</tspan></text>
<text transform="translate(18.8,182) rotate(-90)" font-size="6.4" text-anchor="middle" fill="#444" font-family="Liberation Sans">10<tspan font-size="4.2" dy="-2.8">0</tspan></text>
<text transform="translate(18.8,143) rotate(-90)" font-size="6.4" text-anchor="middle" fill="#444" font-family="Liberation Sans">10<tspan font-size="4.2" dy="-2.8">1</tspan></text>
<text transform="translate(18.8,104) rotate(-90)" font-size="6.4" text-anchor="middle" fill="#444" font-family="Liberation Sans">10<tspan font-size="4.2" dy="-2.8">2</tspan></text>
<text transform="translate(18.8,65) rotate(-90)" font-size="6.4" text-anchor="middle" fill="#444" font-family="Liberation Sans">10<tspan font-size="4.2" dy="-2.8">3</tspan></text>
<text transform="translate(18.8,26) rotate(-90)" font-size="6.4" text-anchor="middle" fill="#444" font-family="Liberation Sans">10<tspan font-size="4.2" dy="-2.8">4</tspan></text>
<text x="24.6" y="49.8" font-size="11" font-weight="bold" text-anchor="start" fill="#111" font-family="Liberation Sans" >40.7%</text>
<text x="142.6" y="46.1" font-size="11" font-weight="bold" text-anchor="start" fill="#111" font-family="Liberation Sans" >8.0%</text>
<text x="26.8" y="175.8" font-size="11" font-weight="bold" text-anchor="start" fill="#111" font-family="Liberation Sans" >5.8%</text>
<text x="152.6" y="176.8" font-size="11" font-weight="bold" text-anchor="start" fill="#111" font-family="Liberation Sans" >45.4%</text>
<text transform="translate(9.2,107.4) rotate(-90)" font-size="11" text-anchor="middle" fill="#111" font-family="Liberation Sans">CD28</text>
<text x="100.4" y="202" font-size="11" font-weight="normal" text-anchor="middle" fill="#111" font-family="Liberation Sans" >CD57</text>
<text transform="translate(197.3,13.8) scale(1.08,1)" font-size="16.3" font-weight="bold" fill="#000" font-family="Liberation Sans">B</text>
<path d="M201,180.5 C225.6,180.44 257.2,180.87 283,180.3 C308.8,179.73 284.15,181.09 287,178.6 C289.85,176.11 289.8,177.58 292.5,172 C295.2,166.42 294.14,169.45 296,160 C297.86,150.55 297.05,144.1 298.7,140.5 C300.35,136.9 299.94,142.75 301.5,148 C303.06,153.25 302.25,159.8 303.9,158 C305.55,156.2 305.29,149.5 307,142 C308.71,134.5 307.95,132.1 309.6,133 C311.25,133.9 310.58,136.78 312.5,145 C314.42,153.22 314.05,160.4 316,160.4 C317.95,160.4 317.29,152.86 319,145 C320.71,137.14 320.05,134.8 321.7,134.2 C323.35,133.6 323,137.42 324.5,143 C326,148.58 325.5,156.7 326.7,152.8 C327.9,148.9 327.6,145.84 328.5,130 C329.4,114.16 328.86,118.6 329.7,100 C330.54,81.4 330.37,85.4 331.3,68 C332.23,50.6 332.08,53.16 332.8,42 C333.52,30.84 333.16,30.8 333.7,30.8 C334.24,30.8 333.88,30.84 334.6,42 C335.32,53.16 335.08,50.6 336.1,68 C337.12,85.4 337.19,85.6 338,100 C338.81,114.4 338.29,100.28 338.8,116 C339.31,131.72 338.56,136.35 339.7,152.4 C340.84,168.45 340.02,163.02 342.6,169.5 C345.18,175.98 344.58,171.27 348.3,174 C352.02,176.73 352.24,176.8 355,178.6 C357.76,180.4 356.75,179.58 357.5,180 L357.5,180.5 L201,181 Z" fill="#c4c4c4" stroke="none"/>
<path d="M201,180.5 C225.6,180.44 257.2,180.87 283,180.3 C308.8,179.73 284.15,181.09 287,178.6 C289.85,176.11 289.8,177.58 292.5,172 C295.2,166.42 294.14,169.45 296,160 C297.86,150.55 297.05,144.1 298.7,140.5 C300.35,136.9 299.94,142.75 301.5,148 C303.06,153.25 302.25,159.8 303.9,158 C305.55,156.2 305.29,149.5 307,142 C308.71,134.5 307.95,132.1 309.6,133 C311.25,133.9 310.58,136.78 312.5,145 C314.42,153.22 314.05,160.4 316,160.4 C317.95,160.4 317.29,152.86 319,145 C320.71,137.14 320.05,134.8 321.7,134.2 C323.35,133.6 323,137.42 324.5,143 C326,148.58 325.5,156.7 326.7,152.8 C327.9,148.9 327.6,145.84 328.5,130 C329.4,114.16 328.86,118.6 329.7,100 C330.54,81.4 330.37,85.4 331.3,68 C332.23,50.6 332.08,53.16 332.8,42 C333.52,30.84 333.16,30.8 333.7,30.8 C334.24,30.8 333.88,30.84 334.6,42 C335.32,53.16 335.08,50.6 336.1,68 C337.12,85.4 337.19,85.6 338,100 C338.81,114.4 338.29,100.28 338.8,116 C339.31,131.72 338.56,136.35 339.7,152.4 C340.84,168.45 340.02,163.02 342.6,169.5 C345.18,175.98 344.58,171.27 348.3,174 C352.02,176.73 352.24,176.8 355,178.6 C357.76,180.4 356.75,179.58 357.5,180" fill="none" stroke="#1a1a1a" stroke-width="1.1" stroke-linejoin="round"/>
<path d="M358,179.9 C385.75,179.57 418.64,179.55 450.5,178.8 C482.36,178.05 458.74,179.17 464.2,177.4 C469.66,175.63 466.33,173.56 468.7,172.9 C471.07,172.24 470.03,177.27 472.1,175.2 C474.17,173.13 473.53,170.8 475.6,166 C477.67,161.2 476.96,163.7 479,159.2 C481.04,154.7 480.69,158.56 482.4,151 C484.11,143.44 483.68,146.3 484.7,134 C485.72,121.7 484.99,129.71 485.8,110 C486.61,90.29 486.47,89.9 487.4,68.3 C488.33,46.7 488.18,51.23 488.9,38 C489.62,24.77 489.23,24.2 489.8,24.2 C490.37,24.2 489.84,24.77 490.8,38 C491.76,51.23 491.77,46.7 493,68.3 C494.23,89.9 493.91,88.49 494.9,110 C495.89,131.51 495.61,126.59 496.3,140 C496.99,153.41 496.24,146.21 497.2,154.7 C498.16,163.19 498.12,165.21 499.5,168.3 C500.88,171.39 500.45,167.85 501.8,165 C503.15,162.15 502.65,158.5 504,158.8 C505.35,159.1 504.92,161.77 506.3,166 C507.68,170.23 507.22,170.2 508.6,172.9 C509.98,175.6 509.73,175.69 510.9,175 C512.07,174.31 511.48,169.25 512.5,170.6 C513.52,171.95 513.76,176.83 514.3,179.5 L514.3,180 L358,180.4 Z" fill="#c4c4c4" stroke="none"/>
<path d="M358,179.9 C385.75,179.57 418.64,179.55 450.5,178.8 C482.36,178.05 458.74,179.17 464.2,177.4 C469.66,175.63 466.33,173.56 468.7,172.9 C471.07,172.24 470.03,177.27 472.1,175.2 C474.17,173.13 473.53,170.8 475.6,166 C477.67,161.2 476.96,163.7 479,159.2 C481.04,154.7 480.69,158.56 482.4,151 C484.11,143.44 483.68,146.3 484.7,134 C485.72,121.7 484.99,129.71 485.8,110 C486.61,90.29 486.47,89.9 487.4,68.3 C488.33,46.7 488.18,51.23 488.9,38 C489.62,24.77 489.23,24.2 489.8,24.2 C490.37,24.2 489.84,24.77 490.8,38 C491.76,51.23 491.77,46.7 493,68.3 C494.23,89.9 493.91,88.49 494.9,110 C495.89,131.51 495.61,126.59 496.3,140 C496.99,153.41 496.24,146.21 497.2,154.7 C498.16,163.19 498.12,165.21 499.5,168.3 C500.88,171.39 500.45,167.85 501.8,165 C503.15,162.15 502.65,158.5 504,158.8 C505.35,159.1 504.92,161.77 506.3,166 C507.68,170.23 507.22,170.2 508.6,172.9 C509.98,175.6 509.73,175.69 510.9,175 C512.07,174.31 511.48,169.25 512.5,170.6 C513.52,171.95 513.76,176.83 514.3,179.5" fill="none" stroke="#1a1a1a" stroke-width="1.1" stroke-linejoin="round"/>
<path d="M202,336.8 C226.51,336.47 256.82,336.48 283.7,335.7 C310.58,334.92 288.21,335.19 291.6,334.2 C294.99,333.21 292.72,334.71 295,332.4 C297.28,330.09 296.59,326.68 299.2,326.5 C301.81,326.32 300.31,331.74 303.7,331.8 C307.09,331.86 306.6,326.52 310.5,326.7 C314.4,326.88 313.13,333.81 316.7,332.4 C320.27,330.99 319.31,325.27 322.4,322 C325.49,318.73 324.81,323.69 327,321.5 C329.19,319.31 328.35,328.65 329.7,314.7 C331.05,300.75 330.78,291.41 331.5,275 C332.22,258.59 331.47,275 332.1,260 C332.73,245 332.82,243 333.6,225 C334.38,207 334.16,211.58 334.7,200 C335.24,188.42 334.98,186.4 335.4,186.4 C335.82,186.4 335.56,188.42 336.1,200 C336.64,211.58 336.33,207 337.2,225 C338.07,243 338.22,240.5 339,260 C339.78,279.5 339.32,272.9 339.8,290 C340.28,307.1 339.82,304.82 340.6,317 C341.38,329.18 340.36,325.14 342.4,330.6 C344.44,336.06 342.72,333.49 347.4,335.2 C352.08,336.91 354.82,335.97 358,336.3 L358,336.8 L202,337.3 Z" fill="#c4c4c4" stroke="none"/>
<path d="M202,336.8 C226.51,336.47 256.82,336.48 283.7,335.7 C310.58,334.92 288.21,335.19 291.6,334.2 C294.99,333.21 292.72,334.71 295,332.4 C297.28,330.09 296.59,326.68 299.2,326.5 C301.81,326.32 300.31,331.74 303.7,331.8 C307.09,331.86 306.6,326.52 310.5,326.7 C314.4,326.88 313.13,333.81 316.7,332.4 C320.27,330.99 319.31,325.27 322.4,322 C325.49,318.73 324.81,323.69 327,321.5 C329.19,319.31 328.35,328.65 329.7,314.7 C331.05,300.75 330.78,291.41 331.5,275 C332.22,258.59 331.47,275 332.1,260 C332.73,245 332.82,243 333.6,225 C334.38,207 334.16,211.58 334.7,200 C335.24,188.42 334.98,186.4 335.4,186.4 C335.82,186.4 335.56,188.42 336.1,200 C336.64,211.58 336.33,207 337.2,225 C338.07,243 338.22,240.5 339,260 C339.78,279.5 339.32,272.9 339.8,290 C340.28,307.1 339.82,304.82 340.6,317 C341.38,329.18 340.36,325.14 342.4,330.6 C344.44,336.06 342.72,333.49 347.4,335.2 C352.08,336.91 354.82,335.97 358,336.3" fill="none" stroke="#1a1a1a" stroke-width="1.1" stroke-linejoin="round"/>
<path d="M359,336.2 C387.14,335.96 421.24,336 452.8,335.4 C484.36,334.8 458.74,335.1 464.2,334.2 C469.66,333.3 467.94,333.12 471,332.4 C474.06,331.68 472.69,333.72 474.4,331.8 C476.11,329.88 474.99,329.42 476.7,326 C478.41,322.58 478.27,321.75 480.1,320.4 C481.93,319.05 481.3,322.88 482.8,321.5 C484.3,320.12 483.84,321.95 485.1,315.8 C486.36,309.65 486.04,317.74 487,301 C487.96,284.26 487.49,282.8 488.3,260 C489.11,237.2 489.04,243 489.7,225 C490.36,207 490.08,211.7 490.5,200 C490.92,188.3 490.71,186 491.1,186 C491.49,186 491.23,188.3 491.8,200 C492.37,211.7 491.92,207 493,225 C494.08,243 494.35,240.5 495.4,260 C496.45,279.5 495.75,273.59 496.5,290 C497.25,306.41 496.67,303.9 497.9,314.7 C499.13,325.5 498.56,324.29 500.6,326 C502.64,327.71 502.66,319.71 504.7,320.4 C506.74,321.09 505.54,324.22 507.4,328.3 C509.26,332.38 509.22,332.62 510.9,334 C512.58,335.38 511.77,332.3 513,332.9 C514.23,333.5 514.4,335.07 515,336 L515,336.5 L359,336.7 Z" fill="#c4c4c4" stroke="none"/>
<path d="M359,336.2 C387.14,335.96 421.24,336 452.8,335.4 C484.36,334.8 458.74,335.1 464.2,334.2 C469.66,333.3 467.94,333.12 471,332.4 C474.06,331.68 472.69,333.72 474.4,331.8 C476.11,329.88 474.99,329.42 476.7,326 C478.41,322.58 478.27,321.75 480.1,320.4 C481.93,319.05 481.3,322.88 482.8,321.5 C484.3,320.12 483.84,321.95 485.1,315.8 C486.36,309.65 486.04,317.74 487,301 C487.96,284.26 487.49,282.8 488.3,260 C489.11,237.2 489.04,243 489.7,225 C490.36,207 490.08,211.7 490.5,200 C490.92,188.3 490.71,186 491.1,186 C491.49,186 491.23,188.3 491.8,200 C492.37,211.7 491.92,207 493,225 C494.08,243 494.35,240.5 495.4,260 C496.45,279.5 495.75,273.59 496.5,290 C497.25,306.41 496.67,303.9 497.9,314.7 C499.13,325.5 498.56,324.29 500.6,326 C502.64,327.71 502.66,319.71 504.7,320.4 C506.74,321.09 505.54,324.22 507.4,328.3 C509.26,332.38 509.22,332.62 510.9,334 C512.58,335.38 511.77,332.3 513,332.9 C514.23,333.5 514.4,335.07 515,336" fill="none" stroke="#1a1a1a" stroke-width="1.1" stroke-linejoin="round"/>
<path d="M200.0,24.5 L513.9,22.7 L515.6,336.3 L202.0,337.5 Z" fill="none" stroke="#3a3a3a" stroke-width="1.1"/>
<line x1="356.8" y1="23.5" x2="358.9" y2="337" stroke="#3a3a3a" stroke-width="1.1" />
<line x1="200.9" y1="181" x2="514.7" y2="180.1" stroke="#111" stroke-width="1.5" />
<line x1="202" y1="337.5" x2="202" y2="339.5" stroke="#3a3a3a" stroke-width="0.9" />
<line x1="213.8" y1="337.45" x2="213.8" y2="339.45" stroke="#3a3a3a" stroke-width="0.9" />
<line x1="220.7" y1="337.43" x2="220.7" y2="339.43" stroke="#3a3a3a" stroke-width="0.9" />
<line x1="225.6" y1="337.41" x2="225.6" y2="339.41" stroke="#3a3a3a" stroke-width="0.9" />
<line x1="229.4" y1="337.4" x2="229.4" y2="339.4" stroke="#3a3a3a" stroke-width="0.9" />
<line x1="232.5" y1="337.38" x2="232.5" y2="339.38" stroke="#3a3a3a" stroke-width="0.9" />
<line x1="235.13" y1="337.37" x2="235.13" y2="339.37" stroke="#3a3a3a" stroke-width="0.9" />
<line x1="237.4" y1="337.36" x2="237.4" y2="339.36" stroke="#3a3a3a" stroke-width="0.9" />
<line x1="239.41" y1="337.36" x2="239.41" y2="339.36" stroke="#3a3a3a" stroke-width="0.9" />
<line x1="241.2" y1="337.35" x2="241.2" y2="339.35" stroke="#3a3a3a" stroke-width="0.9" />
<line x1="253" y1="337.3" x2="253" y2="339.3" stroke="#3a3a3a" stroke-width="0.9" />
<line x1="259.9" y1="337.28" x2="259.9" y2="339.28" stroke="#3a3a3a" stroke-width="0.9" />
<line x1="264.8" y1="337.26" x2="264.8" y2="339.26" stroke="#3a3a3a" stroke-width="0.9" />
<line x1="268.6" y1="337.25" x2="268.6" y2="339.25" stroke="#3a3a3a" stroke-width="0.9" />
<line x1="271.7" y1="337.23" x2="271.7" y2="339.23" stroke="#3a3a3a" stroke-width="0.9" />
<line x1="274.33" y1="337.22" x2="274.33" y2="339.22" stroke="#3a3a3a" stroke-width="0.9" />
<line x1="276.6" y1="337.21" x2="276.6" y2="339.21" stroke="#3a3a3a" stroke-width="0.9" />
<line x1="278.61" y1="337.21" x2="278.61" y2="339.21" stroke="#3a3a3a" stroke-width="0.9" />
<line x1="280.4" y1="337.2" x2="280.4" y2="339.2" stroke="#3a3a3a" stroke-width="0.9" />
<line x1="292.2" y1="337.15" x2="292.2" y2="339.15" stroke="#3a3a3a" stroke-width="0.9" />
<line x1="299.1" y1="337.13" x2="299.1" y2="339.13" stroke="#3a3a3a" stroke-width="0.9" />
<line x1="304" y1="337.11" x2="304" y2="339.11" stroke="#3a3a3a" stroke-width="0.9" />
<line x1="307.8" y1="337.1" x2="307.8" y2="339.1" stroke="#3a3a3a" stroke-width="0.9" />
<line x1="310.9" y1="337.08" x2="310.9" y2="339.08" stroke="#3a3a3a" stroke-width="0.9" />
<line x1="313.53" y1="337.07" x2="313.53" y2="339.07" stroke="#3a3a3a" stroke-width="0.9" />
<line x1="315.8" y1="337.06" x2="315.8" y2="339.06" stroke="#3a3a3a" stroke-width="0.9" />
<line x1="317.81" y1="337.06" x2="317.81" y2="339.06" stroke="#3a3a3a" stroke-width="0.9" />
<line x1="319.6" y1="337.05" x2="319.6" y2="339.05" stroke="#3a3a3a" stroke-width="0.9" />
<line x1="331.4" y1="337" x2="331.4" y2="339" stroke="#3a3a3a" stroke-width="0.9" />
<line x1="338.3" y1="336.98" x2="338.3" y2="338.98" stroke="#3a3a3a" stroke-width="0.9" />
<line x1="343.2" y1="336.96" x2="343.2" y2="338.96" stroke="#3a3a3a" stroke-width="0.9" />
<line x1="347" y1="336.95" x2="347" y2="338.95" stroke="#3a3a3a" stroke-width="0.9" />
<line x1="350.1" y1="336.93" x2="350.1" y2="338.93" stroke="#3a3a3a" stroke-width="0.9" />
<line x1="352.73" y1="336.92" x2="352.73" y2="338.92" stroke="#3a3a3a" stroke-width="0.9" />
<line x1="355" y1="336.91" x2="355" y2="338.91" stroke="#3a3a3a" stroke-width="0.9" />
<line x1="357.01" y1="336.91" x2="357.01" y2="338.91" stroke="#3a3a3a" stroke-width="0.9" />
<line x1="202" y1="337.5" x2="202" y2="342.5" stroke="#3a3a3a" stroke-width="0.9" />
<text x="203.8" y="352.2" font-size="8" font-weight="normal" text-anchor="middle" fill="#333" font-family="Liberation Serif" >10<tspan font-size="5.5" dy="-3.2">0</tspan></text>
<line x1="241.2" y1="337.35" x2="241.2" y2="342.35" stroke="#3a3a3a" stroke-width="0.9" />
<text x="243" y="352.2" font-size="8" font-weight="normal" text-anchor="middle" fill="#333" font-family="Liberation Serif" >10<tspan font-size="5.5" dy="-3.2">1</tspan></text>
<line x1="280.4" y1="337.2" x2="280.4" y2="342.2" stroke="#3a3a3a" stroke-width="0.9" />
<text x="282.2" y="352.2" font-size="8" font-weight="normal" text-anchor="middle" fill="#333" font-family="Liberation Serif" >10<tspan font-size="5.5" dy="-3.2">2</tspan></text>
<line x1="319.6" y1="337.05" x2="319.6" y2="342.05" stroke="#3a3a3a" stroke-width="0.9" />
<text x="321.4" y="352.2" font-size="8" font-weight="normal" text-anchor="middle" fill="#333" font-family="Liberation Serif" >10<tspan font-size="5.5" dy="-3.2">3</tspan></text>
<line x1="358.8" y1="336.9" x2="358.8" y2="341.9" stroke="#3a3a3a" stroke-width="0.9" />
<text x="358.8" y="352.2" font-size="8" font-weight="normal" text-anchor="middle" fill="#333" font-family="Liberation Serif" >10<tspan font-size="5.5" dy="-3.2">4</tspan></text>
<line x1="358.8" y1="336.9" x2="358.8" y2="338.9" stroke="#3a3a3a" stroke-width="0.9" />
<line x1="370.6" y1="336.85" x2="370.6" y2="338.85" stroke="#3a3a3a" stroke-width="0.9" />
<line x1="377.5" y1="336.83" x2="377.5" y2="338.83" stroke="#3a3a3a" stroke-width="0.9" />
<line x1="382.4" y1="336.81" x2="382.4" y2="338.81" stroke="#3a3a3a" stroke-width="0.9" />
<line x1="386.2" y1="336.8" x2="386.2" y2="338.8" stroke="#3a3a3a" stroke-width="0.9" />
<line x1="389.3" y1="336.78" x2="389.3" y2="338.78" stroke="#3a3a3a" stroke-width="0.9" />
<line x1="391.93" y1="336.77" x2="391.93" y2="338.77" stroke="#3a3a3a" stroke-width="0.9" />
<line x1="394.2" y1="336.76" x2="394.2" y2="338.76" stroke="#3a3a3a" stroke-width="0.9" />
<line x1="396.21" y1="336.76" x2="396.21" y2="338.76" stroke="#3a3a3a" stroke-width="0.9" />
<line x1="398" y1="336.75" x2="398" y2="338.75" stroke="#3a3a3a" stroke-width="0.9" />
<line x1="409.8" y1="336.7" x2="409.8" y2="338.7" stroke="#3a3a3a" stroke-width="0.9" />
<line x1="416.7" y1="336.68" x2="416.7" y2="338.68" stroke="#3a3a3a" stroke-width="0.9" />
<line x1="421.6" y1="336.66" x2="421.6" y2="338.66" stroke="#3a3a3a" stroke-width="0.9" />
<line x1="425.4" y1="336.65" x2="425.4" y2="338.65" stroke="#3a3a3a" stroke-width="0.9" />
<line x1="428.5" y1="336.63" x2="428.5" y2="338.63" stroke="#3a3a3a" stroke-width="0.9" />
<line x1="431.13" y1="336.62" x2="431.13" y2="338.62" stroke="#3a3a3a" stroke-width="0.9" />
<line x1="433.4" y1="336.61" x2="433.4" y2="338.61" stroke="#3a3a3a" stroke-width="0.9" />
<line x1="435.41" y1="336.61" x2="435.41" y2="338.61" stroke="#3a3a3a" stroke-width="0.9" />
<line x1="437.2" y1="336.6" x2="437.2" y2="338.6" stroke="#3a3a3a" stroke-width="0.9" />
<line x1="449" y1="336.55" x2="449" y2="338.55" stroke="#3a3a3a" stroke-width="0.9" />
<line x1="455.9" y1="336.53" x2="455.9" y2="338.53" stroke="#3a3a3a" stroke-width="0.9" />
<line x1="460.8" y1="336.51" x2="460.8" y2="338.51" stroke="#3a3a3a" stroke-width="0.9" />
<line x1="464.6" y1="336.5" x2="464.6" y2="338.5" stroke="#3a3a3a" stroke-width="0.9" />
<line x1="467.7" y1="336.48" x2="467.7" y2="338.48" stroke="#3a3a3a" stroke-width="0.9" />
<line x1="470.33" y1="336.47" x2="470.33" y2="338.47" stroke="#3a3a3a" stroke-width="0.9" />
<line x1="472.6" y1="336.46" x2="472.6" y2="338.46" stroke="#3a3a3a" stroke-width="0.9" />
<line x1="474.61" y1="336.46" x2="474.61" y2="338.46" stroke="#3a3a3a" stroke-width="0.9" />
<line x1="476.4" y1="336.45" x2="476.4" y2="338.45" stroke="#3a3a3a" stroke-width="0.9" />
<line x1="488.2" y1="336.4" x2="488.2" y2="338.4" stroke="#3a3a3a" stroke-width="0.9" />
<line x1="495.1" y1="336.38" x2="495.1" y2="338.38" stroke="#3a3a3a" stroke-width="0.9" />
<line x1="500" y1="336.36" x2="500" y2="338.36" stroke="#3a3a3a" stroke-width="0.9" />
<line x1="503.8" y1="336.35" x2="503.8" y2="338.35" stroke="#3a3a3a" stroke-width="0.9" />
<line x1="506.9" y1="336.33" x2="506.9" y2="338.33" stroke="#3a3a3a" stroke-width="0.9" />
<line x1="509.53" y1="336.32" x2="509.53" y2="338.32" stroke="#3a3a3a" stroke-width="0.9" />
<line x1="511.8" y1="336.31" x2="511.8" y2="338.31" stroke="#3a3a3a" stroke-width="0.9" />
<line x1="513.81" y1="336.31" x2="513.81" y2="338.31" stroke="#3a3a3a" stroke-width="0.9" />
<line x1="358.8" y1="336.9" x2="358.8" y2="341.9" stroke="#3a3a3a" stroke-width="0.9" />
<line x1="398" y1="336.75" x2="398" y2="341.75" stroke="#3a3a3a" stroke-width="0.9" />
<text x="399.8" y="352.2" font-size="8" font-weight="normal" text-anchor="middle" fill="#333" font-family="Liberation Serif" >10<tspan font-size="5.5" dy="-3.2">1</tspan></text>
<line x1="437.2" y1="336.6" x2="437.2" y2="341.6" stroke="#3a3a3a" stroke-width="0.9" />
<text x="439" y="352.2" font-size="8" font-weight="normal" text-anchor="middle" fill="#333" font-family="Liberation Serif" >10<tspan font-size="5.5" dy="-3.2">2</tspan></text>
<line x1="476.4" y1="336.45" x2="476.4" y2="341.45" stroke="#3a3a3a" stroke-width="0.9" />
<text x="478.2" y="352.2" font-size="8" font-weight="normal" text-anchor="middle" fill="#333" font-family="Liberation Serif" >10<tspan font-size="5.5" dy="-3.2">3</tspan></text>
<line x1="515.6" y1="336.3" x2="515.6" y2="341.3" stroke="#3a3a3a" stroke-width="0.9" />
<text x="517.4" y="352.2" font-size="8" font-weight="normal" text-anchor="middle" fill="#333" font-family="Liberation Serif" >10<tspan font-size="5.5" dy="-3.2">4</tspan></text>
<line x1="200.5" y1="120.6" x2="326.7" y2="120.6" stroke="#111" stroke-width="1.2" />
<line x1="200.5" y1="116.8" x2="200.5" y2="124.4" stroke="#111" stroke-width="1.0" />
<line x1="326.7" y1="116.8" x2="326.7" y2="124.4" stroke="#111" stroke-width="1.0" />
<line x1="357.6" y1="130.2" x2="481.3" y2="130.2" stroke="#111" stroke-width="1.2" />
<line x1="357.6" y1="126.4" x2="357.6" y2="134" stroke="#111" stroke-width="1.0" />
<line x1="481.3" y1="126.4" x2="481.3" y2="134" stroke="#111" stroke-width="1.0" />
<line x1="201.8" y1="288.2" x2="326.3" y2="288.2" stroke="#111" stroke-width="1.2" />
<line x1="201.8" y1="284.4" x2="201.8" y2="292" stroke="#111" stroke-width="1.0" />
<line x1="326.3" y1="284.4" x2="326.3" y2="292" stroke="#111" stroke-width="1.0" />
<line x1="358.4" y1="277.4" x2="482.8" y2="277.4" stroke="#111" stroke-width="1.2" />
<line x1="358.4" y1="273.6" x2="358.4" y2="281.2" stroke="#111" stroke-width="1.0" />
<line x1="482.8" y1="273.6" x2="482.8" y2="281.2" stroke="#111" stroke-width="1.0" />
<text x="203.6" y="115.9" font-size="8.55" font-weight="normal" text-anchor="start" fill="#111" font-family="Liberation Sans" >22.5% Divided</text>
<text x="362.5" y="127" font-size="8.55" font-weight="normal" text-anchor="start" fill="#111" font-family="Liberation Sans" >7.2% Divided</text>
<text x="205.8" y="283.9" font-size="8.55" font-weight="normal" text-anchor="start" fill="#111" font-family="Liberation Sans" >18.7% Divided</text>
<text x="360.6" y="273.9" font-size="8.55" font-weight="normal" text-anchor="start" fill="#111" font-family="Liberation Sans" >6.7% Divided</text>
<text x="244.5" y="37.7" font-size="10.9" fill="#111" font-family="Liberation Sans">CD28<tspan font-size="8.6" dy="-3.6" font-weight="bold">+</tspan><tspan dy="3.6">CD57</tspan><tspan font-size="6.5" dy="-4.4" font-weight="bold">&#8211;</tspan></text>
<text x="397" y="40.1" font-size="10.9" fill="#111" font-family="Liberation Sans">CD28<tspan font-size="8.6" dy="-3.6" font-weight="bold">+</tspan><tspan dy="3.6">CD57</tspan><tspan font-size="8.6" dy="-3.6" font-weight="bold">+</tspan></text>
<text x="241.6" y="195.9" font-size="10.9" fill="#111" font-family="Liberation Sans">CD28<tspan font-size="6.5" dy="-4.4" font-weight="bold">&#8211;</tspan><tspan dy="4.4">CD57</tspan><tspan font-size="6.5" dy="-4.4" font-weight="bold">&#8211;</tspan></text>
<text x="397.6" y="196" font-size="10.9" fill="#111" font-family="Liberation Sans">CD28<tspan font-size="6.5" dy="-4.4" font-weight="bold">&#8211;</tspan><tspan dy="4.4">CD57</tspan><tspan font-size="8.6" dy="-3.6" font-weight="bold">+</tspan></text>
<text x="344.4" y="371.4" font-size="11" font-weight="normal" text-anchor="start" fill="#111" font-family="Liberation Sans" >CFSE</text>
<text transform="translate(0.1,233.6) scale(1.08,1)" font-size="16.3" font-weight="bold" fill="#000" font-family="Liberation Sans">C</text>
<line x1="26.29" y1="248.8" x2="27.3" y2="347" stroke="#333" stroke-width="1.0" />
<line x1="25.1" y1="346.4" x2="27.3" y2="346.4" stroke="#333" stroke-width="0.9" />
<line x1="25.57" y1="334.27" x2="27.17" y2="334.27" stroke="#333" stroke-width="0.9" />
<line x1="24.85" y1="322.15" x2="27.05" y2="322.15" stroke="#333" stroke-width="0.9" />
<line x1="25.32" y1="310.02" x2="26.92" y2="310.02" stroke="#333" stroke-width="0.9" />
<line x1="24.6" y1="297.9" x2="26.8" y2="297.9" stroke="#333" stroke-width="0.9" />
<line x1="25.07" y1="285.77" x2="26.67" y2="285.77" stroke="#333" stroke-width="0.9" />
<line x1="24.35" y1="273.65" x2="26.55" y2="273.65" stroke="#333" stroke-width="0.9" />
<line x1="24.82" y1="261.52" x2="26.42" y2="261.52" stroke="#333" stroke-width="0.9" />
<line x1="24.1" y1="249.4" x2="26.3" y2="249.4" stroke="#333" stroke-width="0.9" />
<text x="22.2" y="252.3" font-size="8.8" font-weight="bold" text-anchor="end" fill="#111" font-family="Liberation Sans" >80</text>
<text x="22.5" y="276.55" font-size="8.8" font-weight="bold" text-anchor="end" fill="#111" font-family="Liberation Sans" >60</text>
<text x="22.6" y="300.8" font-size="8.8" font-weight="bold" text-anchor="end" fill="#111" font-family="Liberation Sans" >40</text>
<text x="23.5" y="325.05" font-size="8.8" font-weight="bold" text-anchor="end" fill="#111" font-family="Liberation Sans" >20</text>
<text x="24.7" y="349.3" font-size="8.8" font-weight="bold" text-anchor="end" fill="#111" font-family="Liberation Sans" >0</text>
<text transform="translate(8.6,307.2) rotate(-90)" font-size="8.1" font-weight="bold" text-anchor="middle" fill="#111" font-family="Liberation Sans">%CD8 T cells that divide</text>
<line x1="33.8" y1="353.3" x2="176.2" y2="352.5" stroke="#444" stroke-width="1.0" />
<text x="35.8" y="363" font-size="8.8" font-weight="bold" fill="#111" font-family="Liberation Sans">CD28<tspan font-size="7.6" dy="-2.6">+</tspan></text>
<text x="35.8" y="371.7" font-size="8.8" font-weight="bold" fill="#111" font-family="Liberation Sans">CD57<tspan font-size="7.6" dy="-2.6">+</tspan></text>
<text x="72.8" y="362.6" font-size="8.8" font-weight="bold" fill="#111" font-family="Liberation Sans">CD28<tspan font-size="8.6" dy="-3.3">&#8211;</tspan></text>
<text x="72.8" y="371.4" font-size="8.8" font-weight="bold" fill="#111" font-family="Liberation Sans">CD57<tspan font-size="8.6" dy="-3.3">&#8211;</tspan></text>
<text x="110.6" y="362.4" font-size="8.8" font-weight="bold" fill="#111" font-family="Liberation Sans">CD28<tspan font-size="8.6" dy="-3.3">&#8211;</tspan></text>
<text x="110.6" y="371.4" font-size="8.8" font-weight="bold" fill="#111" font-family="Liberation Sans">CD57<tspan font-size="7.6" dy="-2.6">+</tspan></text>
<text x="148" y="362.4" font-size="8.8" font-weight="bold" fill="#111" font-family="Liberation Sans">CD28<tspan font-size="7.6" dy="-2.6">+</tspan></text>
<text x="148" y="371.4" font-size="8.8" font-weight="bold" fill="#111" font-family="Liberation Sans">CD57<tspan font-size="8.6" dy="-3.3">&#8211;</tspan></text>
<circle cx="46.4" cy="335.3" r="2.3" fill="#000"/>
<circle cx="46.4" cy="337.5" r="2.3" fill="#000"/>
<circle cx="46.4" cy="339.5" r="2.3" fill="#000"/>
<circle cx="46.4" cy="341.8" r="2.3" fill="#000"/>
<line x1="52.9" y1="336.6" x2="52.9" y2="342.4" stroke="#111" stroke-width="1.1" />
<line x1="51.6" y1="336.6" x2="54.2" y2="336.6" stroke="#111" stroke-width="1.0" />
<line x1="51.6" y1="342.4" x2="54.2" y2="342.4" stroke="#111" stroke-width="1.0" />
<circle cx="83.8" cy="303" r="2.4" fill="#000"/>
<circle cx="83.8" cy="311.5" r="2.4" fill="#000"/>
<circle cx="83.8" cy="314.8" r="2.4" fill="#000"/>
<circle cx="83.8" cy="320.7" r="2.4" fill="#000"/>
<circle cx="83.8" cy="325.6" r="2.4" fill="#000"/>
<line x1="89.9" y1="308.2" x2="89.9" y2="324.4" stroke="#111" stroke-width="1.1" />
<line x1="88.7" y1="308.2" x2="91.1" y2="308.2" stroke="#111" stroke-width="1.0" />
<line x1="88.7" y1="324.4" x2="91.1" y2="324.4" stroke="#111" stroke-width="1.0" />
<circle cx="120.8" cy="336.6" r="2.3" fill="#000"/>
<circle cx="120.8" cy="338.5" r="2.3" fill="#000"/>
<circle cx="120.8" cy="340.5" r="2.3" fill="#000"/>
<circle cx="120.8" cy="342.4" r="2.3" fill="#000"/>
<line x1="126.8" y1="336.6" x2="126.8" y2="341.6" stroke="#111" stroke-width="1.1" />
<line x1="125.5" y1="336.6" x2="128.1" y2="336.6" stroke="#111" stroke-width="1.0" />
<line x1="125.5" y1="341.6" x2="128.1" y2="341.6" stroke="#111" stroke-width="1.0" />
<circle cx="157.7" cy="264.6" r="2.25" fill="#000"/>
<circle cx="157.7" cy="280.7" r="2.25" fill="#000"/>
<circle cx="157.7" cy="295.2" r="2.25" fill="#000"/>
<circle cx="157.7" cy="302.8" r="2.25" fill="#000"/>
<circle cx="157.7" cy="320.3" r="2.25" fill="#000"/>
<line x1="163.7" y1="270.1" x2="163.7" y2="309.2" stroke="#111" stroke-width="1.1" />
<line x1="162.3" y1="270.1" x2="165.1" y2="270.1" stroke="#111" stroke-width="1.0" />
<line x1="162.3" y1="309.2" x2="165.1" y2="309.2" stroke="#111" stroke-width="1.0" />
<line x1="52.4" y1="248.7" x2="150.8" y2="247.6" stroke="#444" stroke-width="0.8" />
<path d="M49.4,248.7 L55.4,246.7 L54.2,248.7 L55.4,250.7 Z" fill="#111"/>
<path d="M153.8,247.6 L147.8,245.6 L149,247.6 L147.8,249.6 Z" fill="#111"/>
<line x1="126.5" y1="251.9" x2="150.8" y2="251.2" stroke="#444" stroke-width="0.8" />
<path d="M123.5,251.9 L129.5,249.9 L128.3,251.9 L129.5,253.9 Z" fill="#111"/>
<path d="M153.8,251.2 L147.8,249.2 L149,251.2 L147.8,253.2 Z" fill="#111"/>
<line x1="88" y1="258.8" x2="151.6" y2="258.4" stroke="#444" stroke-width="0.8" />
<path d="M85,258.8 L91,256.8 L89.8,258.8 L91,260.8 Z" fill="#111"/>
<path d="M154.6,258.4 L148.6,256.4 L149.8,258.4 L148.6,260.4 Z" fill="#111"/>
<line x1="49.6" y1="286.8" x2="75.9" y2="286.8" stroke="#444" stroke-width="0.8" />
<path d="M46.6,286.8 L52.6,284.8 L51.4,286.8 L52.6,288.8 Z" fill="#111"/>
<path d="M78.9,286.8 L72.9,284.8 L74.1,286.8 L72.9,288.8 Z" fill="#111"/>
<line x1="89.7" y1="286.8" x2="115.7" y2="286.7" stroke="#444" stroke-width="0.8" />
<path d="M86.7,286.8 L92.7,284.8 L91.5,286.8 L92.7,288.8 Z" fill="#111"/>
<path d="M118.7,286.7 L112.7,284.7 L113.9,286.7 L112.7,288.7 Z" fill="#111"/>
<line x1="60.2" y1="342.1" x2="109.1" y2="341.6" stroke="#444" stroke-width="0.8" />
<path d="M57.2,342.1 L63.2,340.1 L62,342.1 L63.2,344.1 Z" fill="#111"/>
<path d="M112.1,341.6 L106.1,339.6 L107.3,341.6 L106.1,343.6 Z" fill="#111"/>
<path d="M157.9,247.9 L158.9,247.9 L158.9,251.4 L157.9,251.4" fill="none" stroke="#222" stroke-width="0.6"/>
<text x="160.6" y="251.3" font-size="5.2" font-weight="bold" fill="#222" font-family="Liberation Sans"><tspan font-style="italic">P</tspan> = 0.004</text>
<text x="160.6" y="260.2" font-size="5.2" font-weight="bold" fill="#222" font-family="Liberation Sans"><tspan font-style="italic">P</tspan> = 0.03</text>
<text x="71.8" y="281.3" font-size="5.2" font-weight="bold" fill="#222" font-family="Liberation Sans"><tspan font-style="italic">P</tspan> = 0.004</text>
<text x="75.4" y="347.4" font-size="5.2" font-weight="bold" fill="#222" font-family="Liberation Sans"><tspan font-style="italic">P</tspan> = ns</text>
</svg>
</body></html>
